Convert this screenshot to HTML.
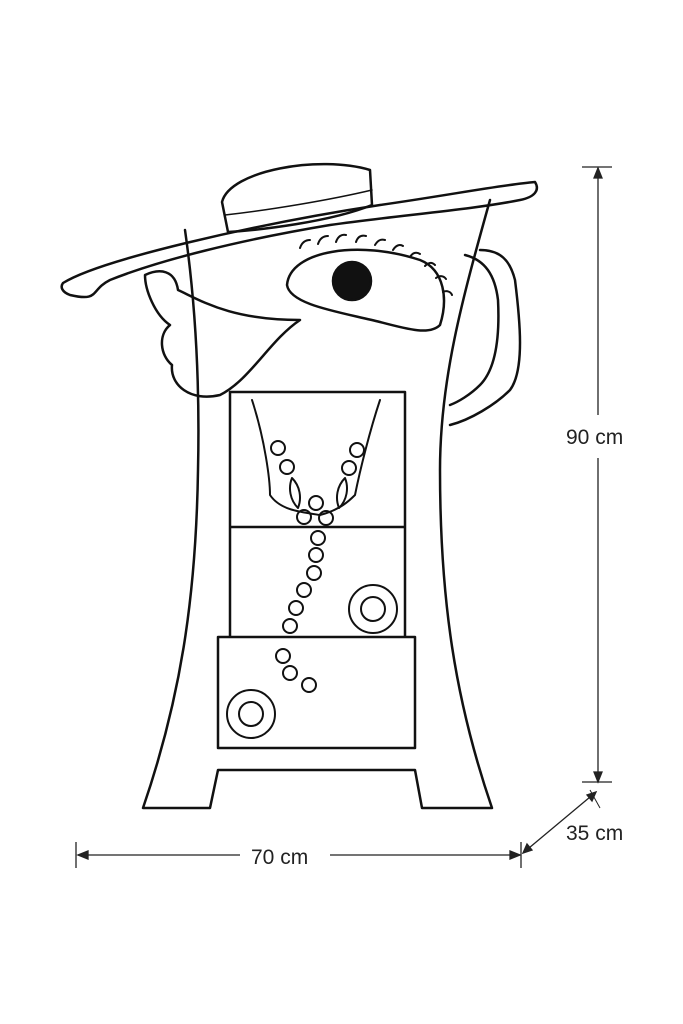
<!DOCTYPE html>
<html><head><meta charset="utf-8"><style>
html,body{margin:0;padding:0;background:#fff;}
svg{display:block}
text{font-family:"Liberation Sans",sans-serif;font-size:21px;fill:#222}
</style></head><body>
<svg width="683" height="1024" viewBox="0 0 683 1024" xmlns="http://www.w3.org/2000/svg">
<g fill="none" stroke="#111" stroke-width="2.5" stroke-linejoin="round" stroke-linecap="round">
<!-- arm right -->
<path d="M480 250 C500 250 510 260 515 280 C520 320 525 370 510 390 C495 405 470 420 450 425" />
<path d="M465 255 C485 260 495 275 498 300 C500 340 495 370 480 385 C470 395 458 402 450 405"/>
<!-- body -->
<path d="M185 230 C195 300 200 380 198 470 C196 600 180 700 143 808 L210 808 L218 770 L415 770 L422 808 L492 808 C455 700 440 600 440 470 C440 380 462 300 490 200"/>
<!-- hat brim -->
<path d="M63 283 C100 260 250 225 380 205 C450 195 500 185 535 182 C540 190 535 197 520 200 C470 210 400 215 330 225 C240 240 160 260 110 280 C90 290 100 302 70 295 C62 292 60 287 63 283 Z"/>
<!-- crown -->
<path d="M222 202 C230 170 320 155 370 170 L372 205 C330 222 260 230 228 232 Z"/>
<path d="M225 215 C270 210 330 200 372 190" stroke-width="1.5"/>
<!-- eye -->
<path d="M287 285 C290 250 360 240 420 260 C445 270 448 300 440 325 C430 335 410 330 380 322 C340 312 290 305 287 285 Z"/>
<circle cx="352" cy="281" r="19" fill="#111"/>
<path d="M300 248 c2-6 6-8 10-8 M318 244 c2-6 6-8 10-8 M336 242 c2-6 6-8 10-7 M356 242 c2-6 6-7 10-6 M375 245 c3-5 6-6 10-5 M393 250 c3-5 7-6 10-4 M410 257 c3-5 7-5 10-3 M425 266 c4-4 7-4 10-1 M436 278 c4-3 8-2 10 1 M443 292 c4-2 8 0 9 3" stroke-width="2"/>
<!-- bow / lips -->
<path d="M145 275 C160 268 175 270 178 290 C200 300 230 320 300 320 C270 340 250 380 220 395 C190 402 170 385 172 365 C160 355 158 335 170 325 C155 315 145 290 145 275 Z"/>
<!-- compartments -->
<path d="M230 392 L405 392 L405 527 L230 527 Z M230 527 L230 637 L405 637 L405 527 M218 637 L415 637 L415 748 L218 748 Z"/>
<path d="M252 400 C265 440 270 480 270 495 C280 510 300 512 320 515 C340 510 350 500 355 495 C360 470 370 430 380 400" stroke-width="2"/>
<!-- beads -->
<g stroke-width="2">
<circle cx="278" cy="448" r="7"/><circle cx="287" cy="467" r="7"/><circle cx="357" cy="450" r="7"/><circle cx="349" cy="468" r="7"/>
<circle cx="304" cy="517" r="7"/><circle cx="316" cy="503" r="7"/><circle cx="326" cy="518" r="7"/>
<circle cx="318" cy="538" r="7"/><circle cx="316" cy="555" r="7"/><circle cx="314" cy="573" r="7"/>
<circle cx="304" cy="590" r="7"/><circle cx="296" cy="608" r="7"/><circle cx="290" cy="626" r="7"/>
<circle cx="283" cy="656" r="7"/><circle cx="290" cy="673" r="7"/><circle cx="309" cy="685" r="7"/>
<path d="M292 478 c8 8 10 20 6 30 c-8-8-10-20-6-30 Z M345 478 c-8 8-10 20-6 30 c8-8 10-20 6-30 Z"/>
<circle cx="373" cy="609" r="24"/><circle cx="373" cy="609" r="12"/>
<circle cx="251" cy="714" r="24"/><circle cx="251" cy="714" r="12"/>
</g>
</g>
<!-- dimensions -->
<g stroke="#222" stroke-width="1.3" fill="#222">
<line x1="598" y1="168" x2="598" y2="415"/><line x1="598" y1="458" x2="598" y2="782"/>
<line x1="582" y1="167" x2="612" y2="167"/><line x1="582" y1="782" x2="612" y2="782"/>
<path d="M598 168 l-4 10 l8 0 Z M598 782 l-4 -10 l8 0 Z"/>
<line x1="78" y1="855" x2="240" y2="855"/><line x1="330" y1="855" x2="520" y2="855"/>
<line x1="76" y1="842" x2="76" y2="868"/><line x1="521" y1="842" x2="521" y2="868"/>
<path d="M78 855 l10 -4 l0 8 Z M520 855 l-10 -4 l0 8 Z"/>
<line x1="523" y1="853" x2="596" y2="792"/>
<line x1="590" y1="790" x2="600" y2="808" stroke-width="1"/>
<path d="M596 792 l-4 9 l-5 -6 Z M523 853 l4 -9 l5 6 Z"/>
</g>
<text x="566" y="444">90 cm</text>
<text x="251" y="864">70 cm</text>
<text x="566" y="840">35 cm</text>
</svg>
</body></html>
